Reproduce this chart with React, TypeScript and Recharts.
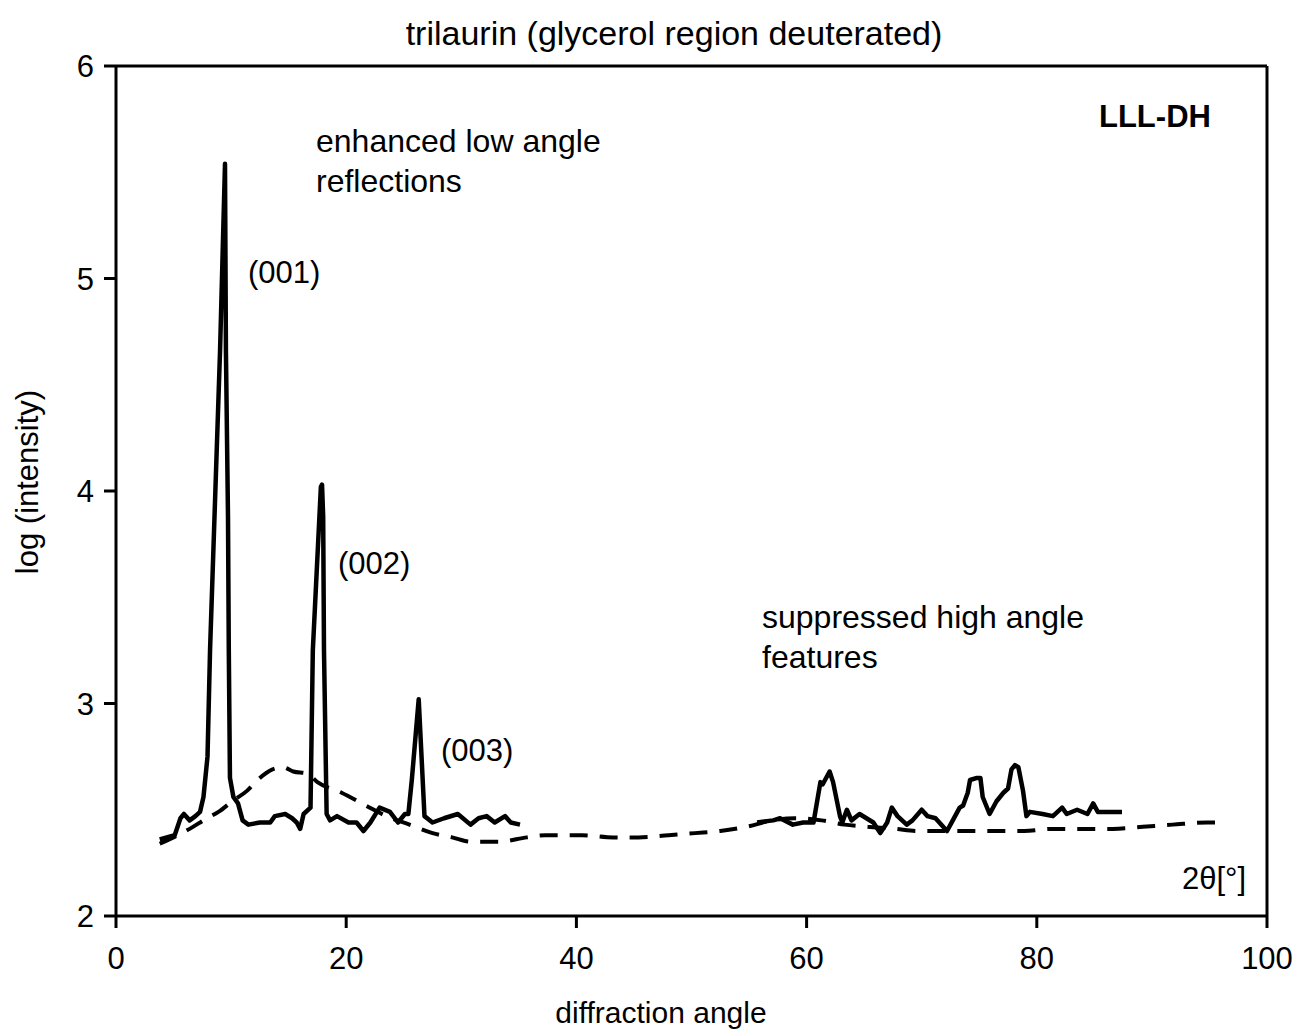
import React from 'react';
import { LineChart, Line, XAxis, YAxis, ReferenceLine } from 'recharts';

// measured trace, low angle part (2θ in degrees, log intensity)
const lowAngleX = [
  3.8, 5.1, 5.6, 5.9, 6.4, 6.9, 7.3, 7.6, 7.95, 8.17, 9.04, 9.47, 9.55, 9.73, 9.8, 9.9,
  10.2, 10.6, 11.0, 11.5, 12.5, 13.4, 13.8, 14.7, 15.3, 15.7, 16.0, 16.3, 16.9, 17.1, 17.8,
  17.9, 18.0, 18.07, 18.3, 18.6, 19.2, 20.2, 20.9, 21.5, 22.1, 22.9, 23.8, 24.5, 25.1,
  25.4, 25.7, 26.3, 26.8, 27.5, 28.5, 29.7, 30.8, 31.5, 32.2, 32.9, 33.8, 34.3, 35.1,
];
const lowAngleY = [
  2.36, 2.38, 2.46, 2.48, 2.45, 2.47, 2.49, 2.56, 2.75, 3.25, 4.66, 5.54, 4.66, 3.88, 3.25, 2.65,
  2.56, 2.53, 2.45, 2.43, 2.44, 2.44, 2.47, 2.48, 2.46, 2.44, 2.41, 2.48, 2.51, 3.25, 4.02,
  4.03, 3.88, 3.25, 2.48, 2.45, 2.47, 2.44, 2.44, 2.4, 2.44, 2.51, 2.49, 2.44, 2.48,
  2.48, 2.64, 3.02, 2.47, 2.44, 2.46, 2.48, 2.43, 2.46, 2.47, 2.44, 2.47, 2.44, 2.43,
];

// measured trace, high angle part
const highAngleX = [
  55.7, 57.1, 57.7, 58.8, 59.7, 60.6, 61.2, 61.4, 62.0, 62.3, 62.9, 63.1, 63.5, 63.9, 64.6,
  65.8, 66.4, 67.0, 67.4, 67.9, 68.7, 69.2, 70.0, 70.5, 71.2, 72.2, 72.7, 73.3, 73.6, 74.0,
  74.2, 74.8, 75.1, 75.3, 75.9, 76.5, 77.1, 77.5, 77.8, 78.1, 78.4, 78.8, 79.1, 79.4, 80.5,
  81.4, 82.2, 82.6, 83.5, 84.4, 84.9, 85.3, 86.5, 87.4,
];
const highAngleY = [
  2.44, 2.45, 2.46, 2.43, 2.44, 2.44, 2.63, 2.62, 2.68, 2.63, 2.47, 2.44, 2.5, 2.45, 2.48,
  2.44, 2.39, 2.44, 2.51, 2.47, 2.43, 2.45, 2.5, 2.47, 2.46, 2.4, 2.45, 2.51, 2.52, 2.58,
  2.64, 2.65, 2.65, 2.56, 2.48, 2.54, 2.58, 2.6, 2.69, 2.71, 2.7, 2.59, 2.47, 2.49, 2.48,
  2.47, 2.51, 2.48, 2.5, 2.48, 2.53, 2.49, 2.49, 2.49,
];

// calculated background (dashed)
const calcX = [
  3.8, 6.4, 7.9, 8.9, 10.1, 11.4, 12.3, 13.6, 14.5, 15.4, 16.6, 17.5, 19.6, 21.7, 23.5,
  25.5, 27.5, 29.2, 30.8, 33.2, 35.7, 37.3, 40.5, 43.2, 45.4, 48.0, 50.3, 52.5, 54.8, 57.0,
  59.0, 61.3, 63.3, 65.3, 67.7, 69.6, 71.6, 74.1, 76.5, 78.9, 81.3, 83.7, 86.6, 89.2, 91.8,
  94.8, 95.7,
];
const calcY = [
  2.34, 2.41, 2.46, 2.49, 2.54, 2.59, 2.64, 2.69, 2.7, 2.68, 2.67, 2.63, 2.58, 2.52, 2.47,
  2.43, 2.39, 2.37, 2.35, 2.35, 2.37, 2.38, 2.38, 2.37, 2.37, 2.38, 2.39, 2.4, 2.42, 2.45,
  2.46, 2.45, 2.43, 2.42, 2.41, 2.4, 2.4, 2.4, 2.4, 2.4, 2.41, 2.41, 2.41, 2.42, 2.43,
  2.44, 2.44,
];

const xTicks = [0, 20, 40, 60, 80, 100];
const yTicks = [2, 3, 4, 5, 6];

const toPoints = (xs: number[], ys: number[]) => xs.map((x, i) => ({ x, y: ys[i] }));

const FONT = '"Liberation Sans", Arial, sans-serif';
const axisStroke = { stroke: '#000', strokeWidth: 3 };

export default function App() {
  const lowAngle = toPoints(lowAngleX, lowAngleY);
  const highAngle = toPoints(highAngleX, highAngleY);
  const calc = toPoints(calcX, calcY);

  return (
    <div style={{ position: 'absolute', left: 0, top: 0, width: 1294, height: 1033, background: '#fff', fontFamily: FONT }}>
      <LineChart width={1294} height={1033} margin={{ top: 66, right: 27, bottom: 0, left: 0 }}>
        <XAxis
          type="number"
          dataKey="x"
          domain={[0, 100]}
          ticks={xTicks}
          height={117}
          axisLine={axisStroke}
          tickLine={axisStroke}
          tickSize={12}
          tickMargin={19}
          tick={{ fill: '#000', fontSize: 31, fontFamily: FONT }}
        />
        <YAxis
          type="number"
          dataKey="y"
          domain={[2, 6]}
          ticks={yTicks}
          width={116}
          axisLine={axisStroke}
          tickLine={axisStroke}
          tickSize={12}
          tickMargin={10}
          tick={{ fill: '#000', fontSize: 31, fontFamily: FONT }}
        />
        <ReferenceLine y={6} stroke="#000" strokeWidth={3} />
        <ReferenceLine x={100} stroke="#000" strokeWidth={3} />
        <Line
          data={calc}
          dataKey="y"
          type="monotone"
          stroke="#000"
          strokeWidth={4}
          strokeDasharray="18 12"
          dot={false}
          isAnimationActive={false}
        />
        <Line
          data={lowAngle}
          dataKey="y"
          type="linear"
          stroke="#000"
          strokeWidth={4.5}
          strokeLinejoin="round"
          dot={false}
          isAnimationActive={false}
        />
        <Line
          data={highAngle}
          dataKey="y"
          type="linear"
          stroke="#000"
          strokeWidth={4.5}
          strokeLinejoin="round"
          dot={false}
          isAnimationActive={false}
        />
      </LineChart>
      <svg
        width={1294}
        height={1033}
        style={{ position: 'absolute', left: 0, top: 0, pointerEvents: 'none' }}
        fontFamily={FONT}
        fill="#000"
      >
        <text x={674} y={33} fontSize={34} textAnchor="middle" dominantBaseline="central">
          trilaurin (glycerol region deuterated)
        </text>
        <text
          x={27}
          y={482}
          fontSize={31}
          textAnchor="middle"
          dominantBaseline="central"
          transform="rotate(-90 27 482)"
        >
          log (intensity)
        </text>
        <text x={661} y={1012} fontSize={30} textAnchor="middle" dominantBaseline="central">
          diffraction angle
        </text>
        <text x={316} y={141} fontSize={32} dominantBaseline="central">enhanced low angle</text>
        <text x={316} y={181} fontSize={32} dominantBaseline="central">reflections</text>
        <text x={248} y={272} fontSize={31} dominantBaseline="central">(001)</text>
        <text x={338} y={563} fontSize={31} dominantBaseline="central">(002)</text>
        <text x={441} y={750} fontSize={31} dominantBaseline="central">(003)</text>
        <text x={762} y={617} fontSize={32} dominantBaseline="central">suppressed high angle</text>
        <text x={762} y={657} fontSize={32} dominantBaseline="central">features</text>
        <text x={1099} y={116} fontSize={31} fontWeight="bold" dominantBaseline="central">LLL-DH</text>
        <text x={1182} y={878} fontSize={31} dominantBaseline="central">2θ[°]</text>
      </svg>
    </div>
  );
}
